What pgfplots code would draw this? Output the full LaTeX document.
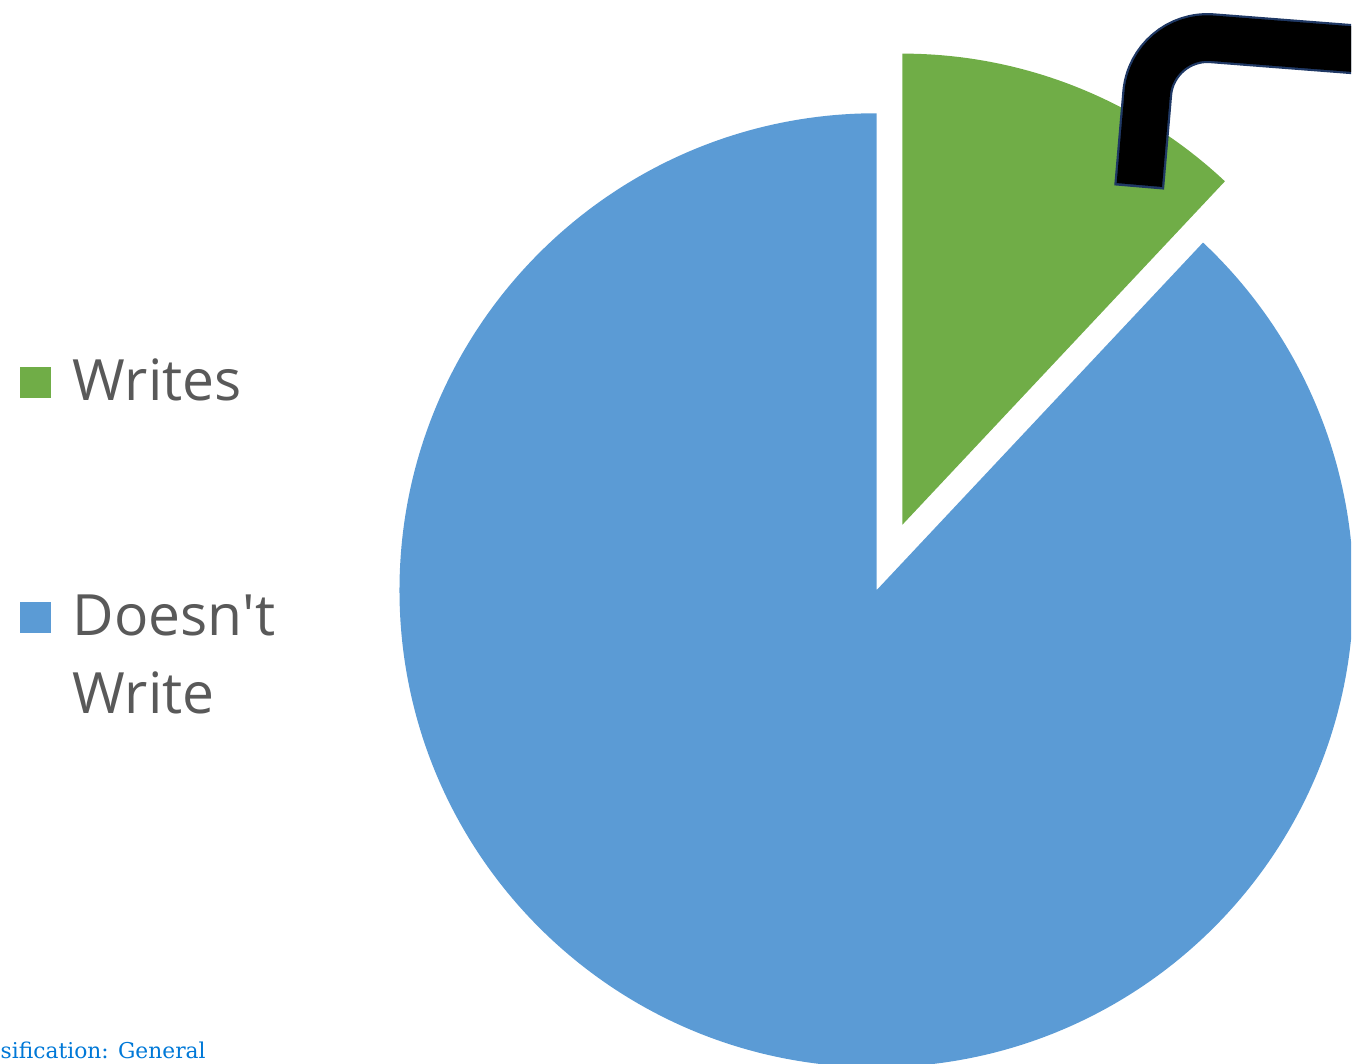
\documentclass[border=0pt]{standalone}
\usepackage{pgfplots}
\pgfplotsset{compat=1.18}
\usepackage{fontspec}
\setmainfont{Open Sans}
\newfontfamily\classfont{DejaVu Serif}

\definecolor{writesgreen}{HTML}{70AD47}
\definecolor{notblue}{HTML}{5B9BD5}
\definecolor{legendgray}{HTML}{595959}
\definecolor{leadernavy}{HTML}{1F3864}
\definecolor{classblue}{HTML}{0078D7}

% shares of the two answers (per cent)
\def\valWrites{12}
\def\valNot{88}

\begin{document}
\begin{tikzpicture}
\useasboundingbox (0,0) rectangle (13.52,10.63);
\clip (0,0) rectangle (13.52,10.63);

% slice angles from the values, first slice starts at 12 o'clock going clockwise
\pgfmathsetmacro\angW{360*\valWrites/(\valWrites+\valNot)}
\pgfmathsetmacro\startW{90-\angW}
\pgfmathsetmacro\midW{90-\angW/2}
\pgfmathsetmacro\endN{360+\startW}

\begin{axis}[
    at={(0,0)}, anchor=south west,
    x=0.01cm, y=0.01cm,
    xmin=0, xmax=1352,
    ymin=0, ymax=1063,
    hide axis,
    ]

    % Doesn't Write
    \fill[notblue] (axis cs:877,473) -- ++(90:4.77cm)
        arc[start angle=90, end angle=\endN, radius=4.77cm] -- cycle;

    % Writes (exploded)
    \fill[writesgreen] (axis cs:877,473) ++(\midW:0.706cm) -- ++(\startW:4.71cm)
        arc[start angle=\startW, end angle=90, radius=4.71cm] -- cycle;

    % leader line
    \draw[leadernavy, line width=0.5cm, rounded corners=0.6cm]
        (axis cs:1139.8,876) -- (axis cs:1153,1030) -- (axis cs:1365,1013.5);
    \draw[black, line width=0.455cm, rounded corners=0.6cm]
        (axis cs:1140,878.5) -- (axis cs:1153,1030) -- (axis cs:1365,1013.5);

    % legend
    \fill[writesgreen] (axis cs:20,665) rectangle (axis cs:51,696);
    \fill[notblue] (axis cs:20,430) rectangle (axis cs:51,461);
    \node[anchor=base west, inner sep=0pt, text=legendgray,
        font=\fontsize{16.2}{22}\selectfont] at (axis cs:72,663) {Writes};
    \node[anchor=base west, inner sep=0pt, text=legendgray,
        font=\fontsize{16.2}{22}\selectfont] at (axis cs:72,428) {Doesn\textquotesingle t};
    \node[anchor=base west, inner sep=0pt, text=legendgray,
        font=\fontsize{16.2}{22}\selectfont] at (axis cs:72,350) {Write};

    % footer, cut off at the left edge in the original
    \node[anchor=base west, inner sep=0pt, text=classblue,
        font=\classfont\fontsize{6.2}{7}\selectfont] at (axis cs:0,5) {sification: General};
\end{axis}
\end{tikzpicture}
\end{document}
